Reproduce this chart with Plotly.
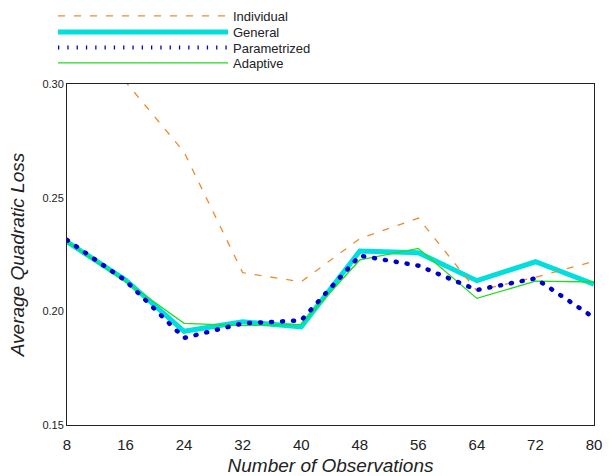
import plotly.graph_objects as go

observations = [8, 16, 24, 32, 40, 48, 56, 64, 72, 80]
individual = [0.36, 0.301, 0.270, 0.217, 0.213, 0.232, 0.241, 0.209, 0.215, 0.222]
general = [0.2306, 0.2138, 0.1912, 0.1954, 0.1932, 0.2265, 0.2258, 0.2135, 0.2218, 0.2120]
parametrized = [0.2314, 0.2135, 0.1883, 0.1947, 0.1960, 0.2245, 0.2201, 0.2094, 0.2145, 0.1972]
adaptive = [0.2306, 0.2131, 0.1947, 0.1937, 0.1943, 0.2226, 0.2277, 0.2057, 0.2133, 0.2129]

y_ticks = [0.15, 0.20, 0.25, 0.30]
y_tick_labels = ["0.15", "0.20", "0.25", "0.30"]

FONT = "Liberation Sans, Arial, sans-serif"
BLUE = "#0000cd"

fig = go.Figure()
fig.add_trace(go.Scatter(x=observations, y=general, name="General", mode="lines",
                         line=dict(color="#00dede", width=5), legend="legend2"))
fig.add_trace(go.Scatter(x=observations, y=individual, name="Individual", mode="lines",
                         line=dict(color="#ee8a30", width=1.3, dash="7px,9px"), legend="legend"))
fig.add_trace(go.Scatter(x=observations, y=adaptive, name="Adaptive", mode="lines",
                         line=dict(color="#22dd22", width=1.3), legend="legend4"))
fig.add_trace(go.Scatter(x=observations, y=parametrized, name="Parametrized", mode="lines",
                         line=dict(color=BLUE, width=4.5, dash="1px,10px"), legend="legend3"))

PLOT_L, PLOT_T, PLOT_B = 67, 84, 425
PLOT_W = 594 - 67
PLOT_H = PLOT_B - PLOT_T


def leg(center_px):
    return dict(x=(53 - PLOT_L) / PLOT_W, y=(PLOT_B - center_px) / PLOT_H,
                xanchor="left", yanchor="middle",
                font=dict(size=13, family=FONT, color="#222"),
                itemwidth=170, bgcolor="rgba(0,0,0,0)", borderwidth=0)


fig.update_layout(
    width=613, height=476,
    margin=dict(l=67, r=19, t=84, b=51, autoexpand=False),
    paper_bgcolor="white", plot_bgcolor="white",
    font=dict(family=FONT, color="#222"),
    showlegend=True,
    legend=leg(16), legend2=leg(32), legend3=leg(47.5), legend4=leg(63),
    xaxis=dict(range=[8, 80], tickvals=observations, ticks="", showgrid=False,
               zeroline=False, showline=True, linecolor="#222", linewidth=1, mirror=True,
               ticklabelstandoff=6,
               tickfont=dict(size=15, family=FONT, color="#222"),
               title=dict(text="<i>Number of Observations</i>", font=dict(size=19, family=FONT, color="#222"),
                          standoff=6)),
    yaxis=dict(range=[0.15, 0.30], tickvals=y_ticks, ticktext=y_tick_labels, ticks="",
               showgrid=False, zeroline=False, showline=True, linecolor="#222", linewidth=1,
               mirror=True, tickfont=dict(size=11, family=FONT, color="#222"),
               title=dict(text="<i>Average Quadratic Loss</i>", font=dict(size=19, family=FONT, color="#222"),
                          standoff=12)),
)

post = """
document.body.style.margin = '0';
document.body.style.padding = '0';
var gd = document.getElementById('{plot_id}');
function fix(){
  gd.querySelectorAll('path').forEach(function(p){
    if (p.style.stroke !== 'rgb(0, 0, 205)') return;
    if (p.closest('.scatterlayer')) {
      p.style.strokeLinecap = 'round';
    } else {
      p.style.strokeLinecap = 'butt';
      p.style.strokeWidth = '4px';
      p.style.strokeDasharray = '1.3px,8px';
    }
  });
}
fix();
gd.on('plotly_afterplot', fix);
"""
fig.write_html("out.html", post_script=post, config={"displayModeBar": False})
